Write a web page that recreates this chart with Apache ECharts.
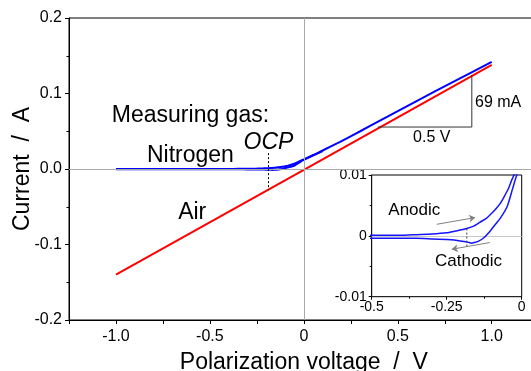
<!DOCTYPE html>
<html><head><meta charset="utf-8">
<script src="https://cdn.jsdelivr.net/npm/echarts@6/dist/echarts.min.js"></script>
<style>html,body{margin:0;padding:0;background:#fff}#c{width:531px;height:371px}</style>
</head><body><div id="c"></div>
<script>
// ---- data ----
const airV = [-1.0, 0.0, 1.0];
const airI = [-0.140, -0.001, 0.138];

const anodicV = [-1.0, -0.8, -0.6, -0.5, -0.45, -0.4, -0.35, -0.3, -0.25, -0.22, -0.2, -0.183, -0.16, -0.14, -0.117, -0.1, -0.085, -0.072, -0.06, -0.045, -0.033, -0.02, 0.0, 0.05, 0.1, 0.193, 0.3, 0.405, 0.6, 0.8, 1.0];
const anodicI = [0.0000, 0.0000, 0.0000, 0.0001, 0.0001, 0.0001, 0.0002, 0.0003, 0.0005, 0.0008, 0.0010, 0.0012, 0.0016, 0.0022, 0.0029, 0.0037, 0.0045, 0.0053, 0.0063, 0.0077, 0.0092, 0.0106, 0.0128, 0.0185, 0.0245, 0.036, 0.050, 0.064, 0.090, 0.116, 0.142];

const cathodicV = [0.1, 0.0, -0.017, -0.03, -0.047, -0.07, -0.094, -0.11, -0.128, -0.145, -0.158, -0.167, -0.175, -0.183, -0.2, -0.225, -0.25, -0.3, -0.35, -0.4, -0.5, -0.7, -1.0];
const cathodicI = [0.0238, 0.0121, 0.0099, 0.0078, 0.0050, 0.0030, 0.0015, 0.0005, -0.0004, -0.0009, -0.0011, -0.0012, -0.0011, -0.0010, -0.0009, -0.0007, -0.0006, -0.0005, -0.0004, -0.0004, -0.0004, -0.0003, -0.0002];

const ocpMainV = [-0.188, -0.188];
const ocpMainI = [0.021, -0.028];
const ocpInsetV = [-0.183, -0.183];
const ocpInsetI = [0.0012, -0.0017];

const scaleV = [0.394, 0.894, 0.894];
const scaleI = [0.0556, 0.0556, 0.1246];

const xTickValues = [-1.0, -0.5, 0, 0.5, 1.0];
const xTickLabels = ['-1.0', '-0.5', '0', '0.5', '1.0'];
const yTickValues = [-0.2, -0.1, 0, 0.1, 0.2];
const yTickLabels = ['-0.2', '-0.1', '0.0', '0.1', '0.2'];
const insetXTickValues = [-0.5, -0.25, 0];
const insetXTickLabels = ['-0.5', '-0.25', '0'];
const insetYTickValues = [-0.01, 0, 0.01];
const insetYTickLabels = ['-0.01', '0', '0.01'];

// ---- helpers ----
const zip = (a, b) => a.map((v, k) => [v, b[k]]);
const lookup = (vals, labs) => v => {
  for (let k = 0; k < vals.length; k++) if (Math.abs(vals[k] - v) < 1e-9) return labs[k];
  return '';
};
const FONT = 'Liberation Sans, Arial, Helvetica, sans-serif';
const BLUE = '#0000ff';

const chart = echarts.init(document.getElementById('c'), null, {renderer: 'canvas'});

const axisCommon = {
  type: 'value',
  splitLine: {show: false},
  axisLine: {onZero: false, lineStyle: {color: '#000', width: 1}},
  axisTick: {inside: false, lineStyle: {color: '#000', width: 1}},
  minorTick: {show: false},
};

const option = {
  animation: false,
  backgroundColor: '#fff',
  textStyle: {fontFamily: FONT},
  grid: [
    {left: 69, top: 18, right: -7.7, bottom: 51, show: true, borderColor: '#000', borderWidth: 1, backgroundColor: 'transparent', outerBoundsMode: 'none', containLabel: false},
    {left: 371.7, top: 175, right: 9.3, bottom: 74.3, show: true, borderColor: '#000', borderWidth: 1, backgroundColor: '#fff', outerBoundsMode: 'none', containLabel: false, z: 5}
  ],
  xAxis: [
    Object.assign({}, axisCommon, {
      gridIndex: 0, min: -1.25, max: 1.25, interval: 0.25,
      axisTick: {inside: false, length: 4, lineStyle: {color: '#000'}},
      axisLabel: {formatter: lookup(xTickValues, xTickLabels), color: '#000', fontSize: 16, margin: 9, fontFamily: FONT, showMinLabel: true, showMaxLabel: true},
      name: 'Polarization voltage  /  V', nameLocation: 'middle', nameGap: 31.5, nameMoveOverlap: false,
      nameTextStyle: {fontSize: 23, color: '#000', fontFamily: FONT}
    }),
    Object.assign({}, axisCommon, {
      gridIndex: 1, min: -0.5, max: 0, interval: 0.25,
      axisTick: {inside: false, length: 3, lineStyle: {color: '#000'}},
      minorTick: {show: true, splitNumber: 2, length: 2, lineStyle: {color: '#000'}},
      axisLabel: {formatter: lookup(insetXTickValues, insetXTickLabels), color: '#000', fontSize: 14, margin: 3, fontFamily: FONT, showMinLabel: true, showMaxLabel: true}
    })
  ],
  yAxis: [
    Object.assign({}, axisCommon, {
      gridIndex: 0, min: -0.2, max: 0.2, interval: 0.1,
      axisTick: {inside: false, length: 4, lineStyle: {color: '#000'}},
      minorTick: {show: true, splitNumber: 2, length: 2.5, lineStyle: {color: '#000'}},
      axisLabel: {formatter: lookup(yTickValues, yTickLabels), color: '#000', fontSize: 16, margin: 7, fontFamily: FONT, showMinLabel: true, showMaxLabel: true},
      name: 'Current  /  A', nameLocation: 'middle', nameGap: 35, nameRotate: 90, nameMoveOverlap: false,
      nameTextStyle: {fontSize: 23, color: '#000', fontFamily: FONT}
    }),
    Object.assign({}, axisCommon, {
      gridIndex: 1, min: -0.01, max: 0.01, interval: 0.01,
      axisTick: {inside: false, length: 3, lineStyle: {color: '#000'}},
      minorTick: {show: true, splitNumber: 2, length: 2, lineStyle: {color: '#000'}},
      axisLabel: {formatter: lookup(insetYTickValues, insetYTickLabels), color: '#000', fontSize: 14, margin: 5, fontFamily: FONT, showMinLabel: true, showMaxLabel: true}
    })
  ],
  series: [
    // main reference zero lines
    {type: 'line', xAxisIndex: 0, yAxisIndex: 0, z: 1, silent: true, symbol: 'none',
     data: zip(airV, airI), lineStyle: {opacity: 0},
     markLine: {silent: true, symbol: 'none', animation: false, label: {show: false},
       lineStyle: {color: '#a8a8a8', width: 1, type: 'solid'},
       data: [{xAxis: 0}, {yAxis: 0}]}},
    {name: 'Air', type: 'line', xAxisIndex: 0, yAxisIndex: 0, z: 3, symbol: 'none',
     data: zip(airV, airI), lineStyle: {color: '#ff0000', width: 2}},
    {name: 'Nitrogen anodic', type: 'line', xAxisIndex: 0, yAxisIndex: 0, z: 4, symbol: 'none', smooth: 0.2,
     data: zip(anodicV, anodicI), lineStyle: {color: BLUE, width: 2}},
    {name: 'Nitrogen cathodic', type: 'line', xAxisIndex: 0, yAxisIndex: 0, z: 4, symbol: 'none', smooth: 0.2,
     data: zip(cathodicV, cathodicI), lineStyle: {color: BLUE, width: 2}},
    {type: 'line', xAxisIndex: 0, yAxisIndex: 0, z: 5, symbol: 'none',
     data: zip(ocpMainV, ocpMainI), lineStyle: {color: '#000', width: 1, type: [2, 2]}},
    {type: 'line', xAxisIndex: 0, yAxisIndex: 0, z: 5, symbol: 'none',
     data: zip(scaleV, scaleI), lineStyle: {color: '#333', width: 1}},
    // inset
    {type: 'line', xAxisIndex: 1, yAxisIndex: 1, z: 6, silent: true, symbol: 'none',
     data: zip(anodicV, anodicI), lineStyle: {opacity: 0},
     markLine: {silent: true, symbol: 'none', animation: false, label: {show: false},
       lineStyle: {color: '#c8c8c8', width: 1, type: 'solid'},
       data: [{yAxis: 0}]}},
    {type: 'line', xAxisIndex: 1, yAxisIndex: 1, z: 7, symbol: 'none', smooth: 0.2, clip: true,
     data: zip(anodicV, anodicI), lineStyle: {color: '#1414ff', width: 1.5}},
    {type: 'line', xAxisIndex: 1, yAxisIndex: 1, z: 7, symbol: 'none', smooth: 0.2, clip: true,
     data: zip(cathodicV, cathodicI), lineStyle: {color: '#1414ff', width: 1.5}},
    {type: 'line', xAxisIndex: 1, yAxisIndex: 1, z: 8, symbol: 'none',
     data: zip(ocpInsetV, ocpInsetI), lineStyle: {color: '#444', width: 1, type: [2, 2]},
     markLine: {silent: true, animation: false, label: {show: false}, symbol: ['none', 'arrow'], symbolSize: 6,
       lineStyle: {color: '#808080', width: 1, type: 'solid', curveness: 0.12},
       data: [
         [{coord: [-0.283, 0.0019]}, {coord: [-0.155, 0.0030]}],
         [{coord: [-0.106, -0.0011]}, {coord: [-0.233, -0.0022]}]
       ]}}
  ]
};
chart.setOption(option);

// ---- text annotations placed in data coordinates ----
const notes = [
  {g: 0, text: 'Measuring gas:', at: [-1.022, 0.0705], size: 23, align: 'left'},
  {g: 0, text: 'Nitrogen', at: [-0.835, 0.0180], size: 23, align: 'left'},
  {g: 0, text: 'Air', at: [-0.669, -0.0575], size: 23, align: 'left'},
  {g: 0, text: 'OCP', at: [-0.321, 0.0350], size: 23, align: 'left', style: 'italic'},
  {g: 0, text: '69 mA', at: [0.911, 0.0878], size: 16, align: 'left'},
  {g: 0, text: '0.5 V', at: [0.681, 0.042], size: 16, align: 'center'},
  {g: 1, text: 'Anodic', at: [-0.4447, 0.00421], size: 17, align: 'left'},
  {g: 1, text: 'Cathodic', at: [-0.289, -0.00417], size: 17, align: 'left'}
];
const graphic = notes.map(n => {
  const p = chart.convertToPixel({gridIndex: n.g}, n.at);
  return {type: 'text', x: p[0], y: p[1], z: 100,
    style: {text: n.text, fill: '#000', font: (n.style || 'normal') + ' ' + n.size + 'px ' + FONT,
      textAlign: n.align, textVerticalAlign: 'middle'}};
});
chart.setOption({graphic: graphic});
</script>
</body></html>
